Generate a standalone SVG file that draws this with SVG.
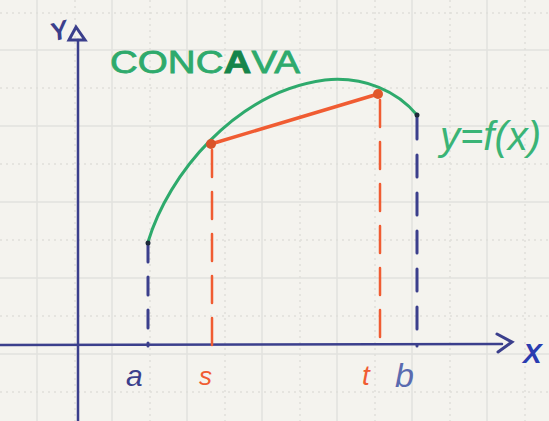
<svg xmlns="http://www.w3.org/2000/svg" width="549" height="421" viewBox="0 0 549 421">
<defs>
<style>
.grid line{stroke:#e2e2de;stroke-width:1.5}
.gd line{stroke:#e0e0da;stroke-width:1.5;stroke-dasharray:2 4}
.navy{stroke:#3b3f8c;fill:none;stroke-linecap:round}
.red{stroke:#f05c32;fill:none;stroke-linecap:round}
.green{stroke:#2eaa6c;fill:none;stroke-linecap:round}
.hand{font-family:"Liberation Sans",sans-serif;font-style:italic}
</style>
</defs>
<rect width="549" height="421" fill="#f4f3ee"/>
<g class="grid">
<line x1="0" y1="50" x2="549" y2="50"/>
<line x1="0" y1="126" x2="549" y2="126"/>
<line x1="0" y1="202" x2="549" y2="202"/>
<line x1="0" y1="278" x2="549" y2="278"/>
<line x1="0" y1="354" x2="549" y2="354"/>
<line x1="37" y1="0" x2="37" y2="421"/>
<line x1="112" y1="0" x2="112" y2="421"/>
<line x1="187" y1="0" x2="187" y2="421"/>
<line x1="262" y1="0" x2="262" y2="421"/>
<line x1="337" y1="0" x2="337" y2="421"/>
<line x1="412" y1="0" x2="412" y2="421"/>
<line x1="487" y1="0" x2="487" y2="421"/>
</g>
<g class="gd">
<line x1="0" y1="13" x2="549" y2="13"/>
<line x1="0" y1="88" x2="549" y2="88"/>
<line x1="0" y1="164" x2="549" y2="164"/>
<line x1="0" y1="240" x2="549" y2="240"/>
<line x1="0" y1="316" x2="549" y2="316"/>
<line x1="0" y1="392" x2="549" y2="392"/>
<line x1="75" y1="0" x2="75" y2="421"/>
<line x1="150" y1="0" x2="150" y2="421"/>
<line x1="225" y1="0" x2="225" y2="421"/>
<line x1="300" y1="0" x2="300" y2="421"/>
<line x1="375" y1="0" x2="375" y2="421"/>
<line x1="450" y1="0" x2="450" y2="421"/>
<line x1="525" y1="0" x2="525" y2="421"/>
</g>
<g id="axes">
<line class="navy" x1="78" y1="40" x2="78" y2="421" stroke-width="2.5"/>
<path class="navy" d="M69,40 L76,27 L85,40 Z" stroke-width="3" fill="#5a5fa8"/>
<line class="navy" x1="0" y1="345" x2="502" y2="344" stroke-width="2.5"/>
<path class="navy" d="M497,334 L512,342 L498,352" stroke-width="3" stroke="#8a8db8"/>
<text class="hand" x="50" y="40" font-size="26" font-weight="bold" fill="#3b3f8c" transform="rotate(-15 58 30)">Y</text>
<text class="hand" x="523" y="363" font-size="28" font-weight="bold" fill="#2a3cb0">X</text>
</g>
<g id="connectors">
<line class="navy" x1="148" y1="244" x2="148" y2="346" stroke-width="3" stroke-dasharray="18 15"/>
<line class="navy" x1="417" y1="117" x2="417" y2="346" stroke-width="3" stroke-dasharray="22 16"/>
<line class="red" x1="212" y1="150" x2="212" y2="346" stroke-width="2.5" stroke-dasharray="27 15"/>
<line class="red" x1="380" y1="100" x2="380" y2="346" stroke-width="2.5" stroke-dasharray="27 15"/>
</g>
<g id="curve">
<path class="green" d="M148,242 C168,175 235,92 325,80 C365,76 398,92 417,115" stroke-width="3"/>
<circle cx="148" cy="243" r="2.5" fill="#1d2a3a"/>
<circle cx="417" cy="115" r="2.5" fill="#1d2a3a"/>
</g>
<g id="chord">
<line class="red" x1="211" y1="144" x2="378" y2="94" stroke-width="3.5"/>
<circle cx="211" cy="144" r="5" fill="#d9542a"/>
<circle cx="378" cy="94" r="5" fill="#e0582c"/>
</g>
<g id="labels">
<text x="110" y="73" font-family="Liberation Sans,sans-serif" font-size="32" fill="#2eaa6c" stroke="#2eaa6c" stroke-width="0.8" textLength="190" lengthAdjust="spacingAndGlyphs">CONC<tspan fill="#16854a" stroke="#16854a" font-weight="bold">A</tspan>VA</text>
<text class="hand" x="440" y="150" font-size="40" fill="#3ab476">y=f(x)</text>
<text class="hand" x="126" y="386" font-size="30" fill="#3b3f8c">a</text>
<text class="hand" x="199" y="385" font-size="26" fill="#f05c32">s</text>
<text class="hand" x="362" y="385" font-size="28" fill="#f05c32">t</text>
<text class="hand" x="395" y="387" font-size="34" fill="#5a6bb0">b</text>
</g>
</svg>
